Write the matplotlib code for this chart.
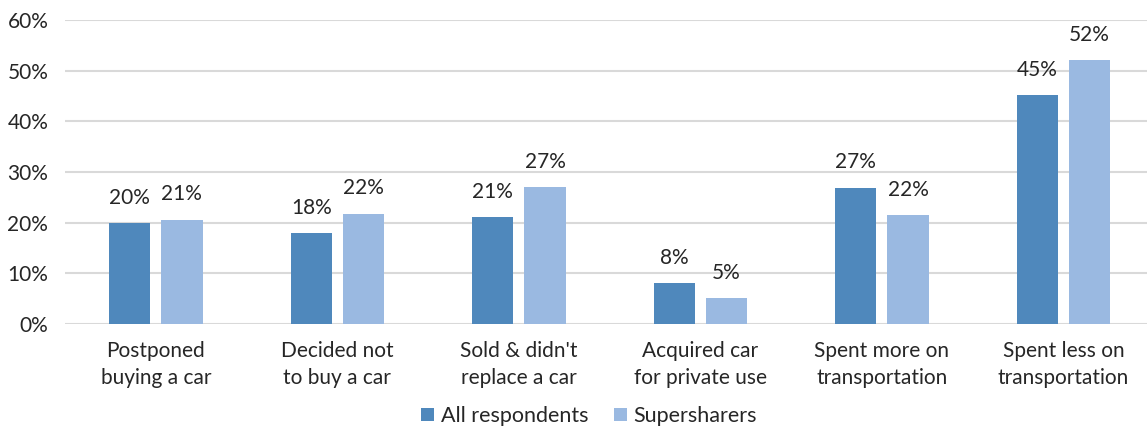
import numpy as np
import matplotlib.pyplot as plt

categories = ["Postponed\nbuying a car", "Decided not\nto buy a car", "Sold & didn't\nreplace a car",
              "Acquired car\nfor private use", "Spent more on\ntransportation", "Spent less on\ntransportation"]
all_resp = [19.9, 17.9, 21.1, 8.0, 26.9, 45.2]
supersharers = [20.6, 21.8, 27.0, 5.1, 21.5, 52.1]
yticks = [0, 10, 20, 30, 40, 50, 60]

c_all = "#4F88BC"
c_sup = "#9AB9E1"
txt = "#262626"

plt.rcParams['font.family'] = ['Lato', 'DejaVu Sans']

fig = plt.figure(figsize=(11.47, 4.29), dpi=100)
ax = fig.add_axes([65/1147, 1 - 324/429, (1147-65)/1147, (324-20)/429])

x = np.arange(len(categories))
w = 0.227
off = 0.144
b1 = ax.bar(x - off, all_resp, w, color=c_all, label="All respondents", zorder=3)
b2 = ax.bar(x + off, supersharers, w, color=c_sup, label="Supersharers", zorder=3)

# data labels above the bars
for bars, vals in ((b1, all_resp), (b2, supersharers)):
    for b, v in zip(bars, vals):
        ax.annotate("%d%%" % round(v), (b.get_x() + b.get_width()/2, v), xytext=(0, 11),
                    textcoords="offset points", ha="center", va="bottom", fontsize=15, color=txt)

ax.set_xlim(-0.5, 5.46)
ax.set_ylim(0, 60)
ax.set_yticks(yticks)
ax.set_yticklabels(["%d%%" % t for t in yticks], fontsize=15, color=txt)
ax.set_xticks(x)
ax.set_xticklabels(categories, fontsize=15, color=txt, linespacing=1.45)
ax.tick_params(length=0, pad=12)
ax.tick_params(axis='y', pad=12)
ax.grid(axis='y', color="#D9D9D9", linewidth=1.5, zorder=0)
for s in ax.spines.values():
    s.set_visible(False)

fig.legend(loc="center", bbox_to_anchor=(589/1147, 1 - 416/429), ncol=2, frameon=False,
           fontsize=15.5, handlelength=0.6, handleheight=0.6, handletextpad=0.3, columnspacing=1.2,
           labelcolor=txt)

fig.savefig("out.png", dpi=100)
